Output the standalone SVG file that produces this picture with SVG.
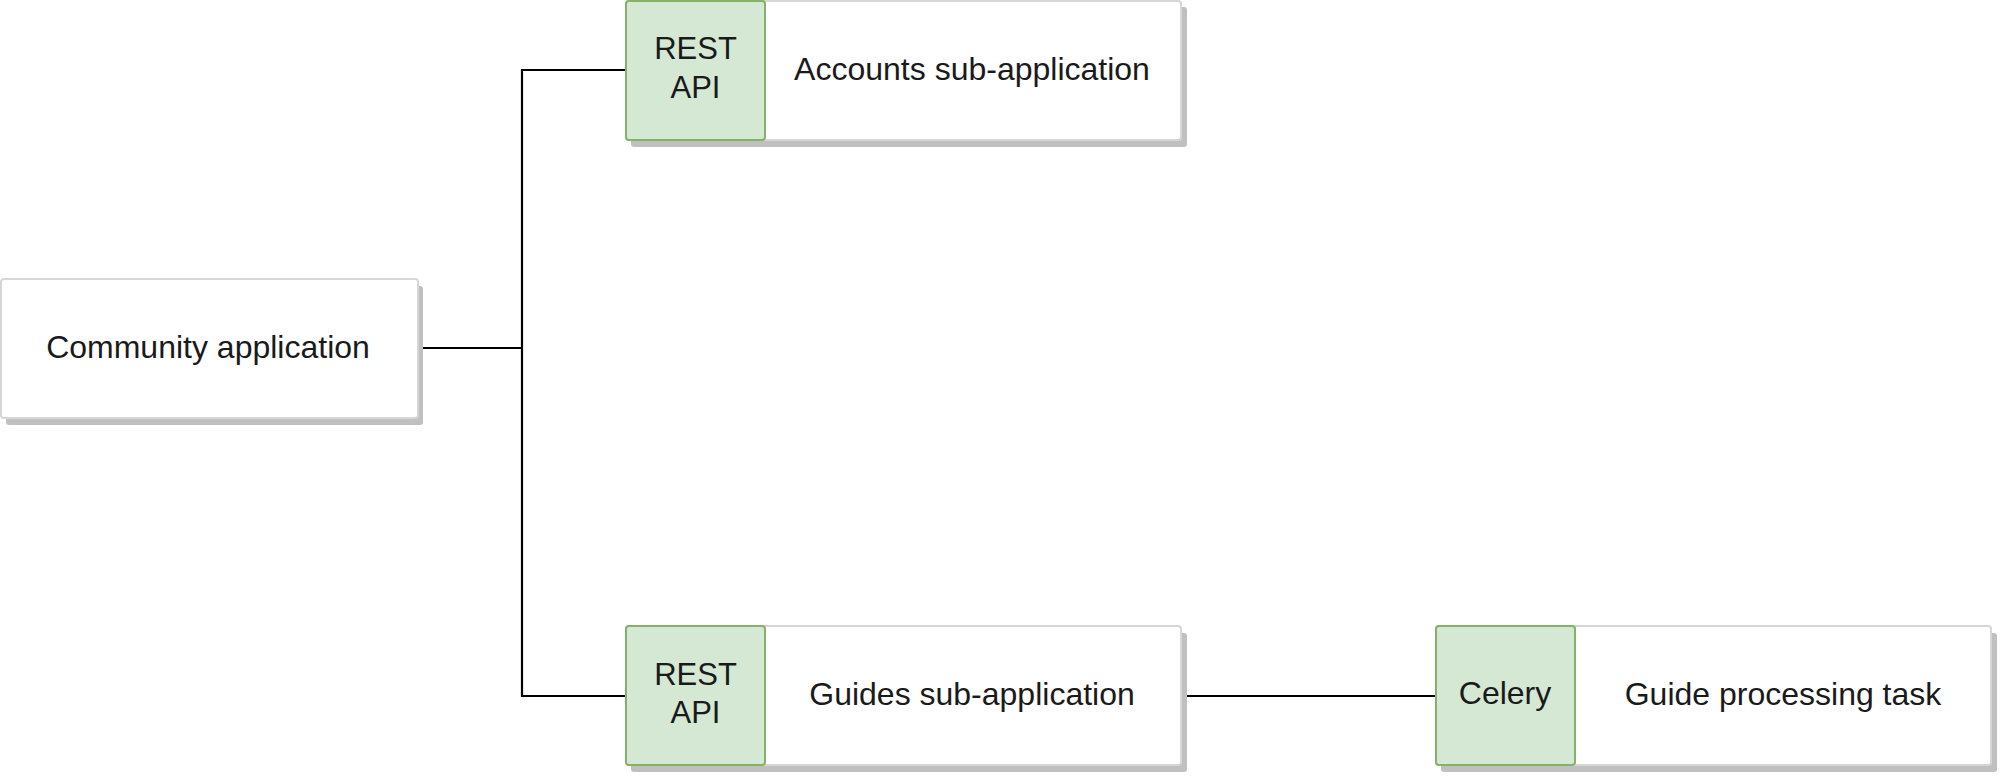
<svg xmlns="http://www.w3.org/2000/svg" width="2000" height="776" viewBox="0 0 2000 776">
<style>
.shadow{fill:#c0c0c0;stroke:none}
.box{fill:#ffffff;stroke:#d6d6d6;stroke-width:2}
.tag{fill:#d5e8d4;stroke:#82b366;stroke-width:2}
.t{font-family:"Liberation Sans",Arial,sans-serif;fill:#1a1a1a;text-anchor:middle}
.big{font-size:32px}
.small{font-size:31px}
.conn{fill:none;stroke:#000000;stroke-width:2.2}
</style>
<rect width="2000" height="776" fill="#ffffff"/>
<g id="connectors">
<polyline class="conn" points="418,348 522,348"/>
<polyline class="conn" points="626,70 522,70 522,696 626,696"/>
<polyline class="conn" points="1182,696 1436,696"/>
</g>
<g id="community">
<rect class="shadow" x="6" y="286" width="417" height="139" rx="3"/>
<rect class="box" x="1" y="279" width="417" height="139" rx="3"/>
<text class="t big" x="208" y="357.5">Community application</text>
</g>
<g id="accounts">
<rect class="shadow" x="631" y="7" width="556" height="140" rx="3"/>
<rect class="box" x="626" y="1" width="555" height="139" rx="3"/>
<rect class="tag" x="626" y="1" width="139" height="139" rx="3"/>
<text class="t small" x="695.5" y="58.5">REST</text>
<text class="t small" x="695.5" y="97.5">API</text>
<text class="t big" x="972" y="79.5">Accounts sub-application</text>
</g>
<g id="guides">
<rect class="shadow" x="631" y="633" width="556" height="139" rx="3"/>
<rect class="box" x="626" y="626" width="555" height="139" rx="3"/>
<rect class="tag" x="626" y="626" width="139" height="139" rx="3"/>
<text class="t small" x="695.5" y="684.5">REST</text>
<text class="t small" x="695.5" y="723">API</text>
<text class="t big" x="972" y="705">Guides sub-application</text>
</g>
<g id="celery">
<rect class="shadow" x="1441" y="633" width="556" height="139" rx="3"/>
<rect class="box" x="1436" y="626" width="555" height="139" rx="3"/>
<rect class="tag" x="1436" y="626" width="139" height="139" rx="3"/>
<text class="t big" x="1505" y="704.3">Celery</text>
<text class="t big" x="1783" y="705">Guide processing task</text>
</g>
</svg>
